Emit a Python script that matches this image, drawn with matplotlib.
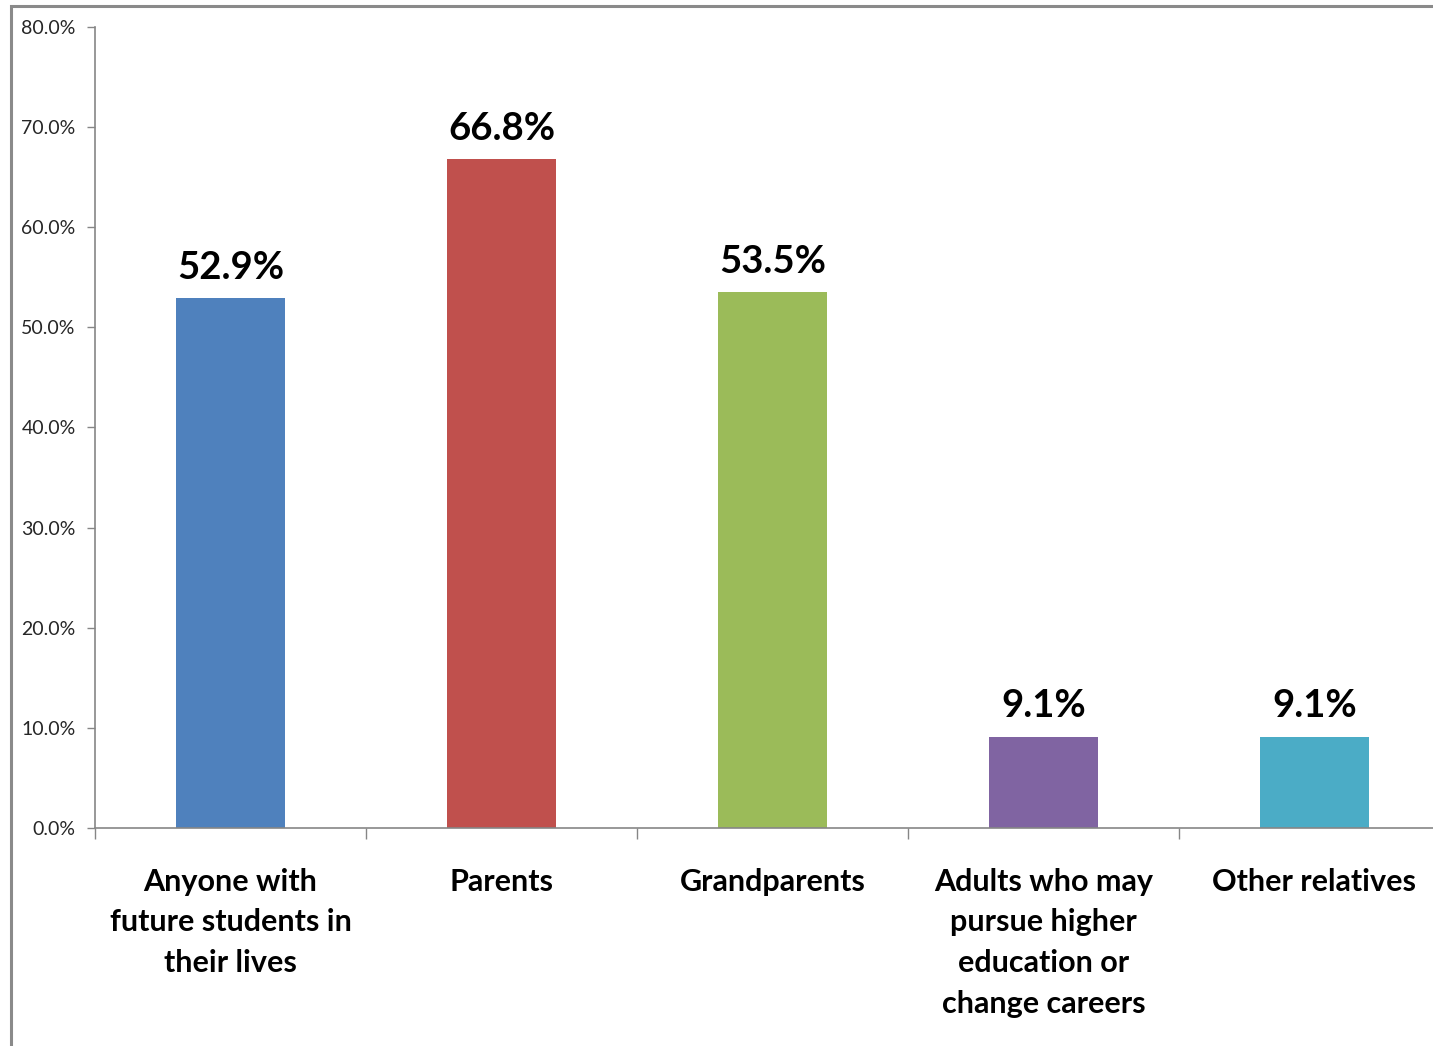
import matplotlib.pyplot as plt
from matplotlib.patches import Rectangle
from matplotlib.ticker import FuncFormatter

categories = [
    "Anyone with\nfuture students in\ntheir lives",
    "Parents",
    "Grandparents",
    "Adults who may\npursue higher\neducation or\nchange careers",
    "Other relatives",
]
values = [52.9, 66.8, 53.5, 9.1, 9.1]
colors = ["#4F81BD", "#C0504D", "#9BBB59", "#8064A2", "#4BACC6"]
yticks = [0, 10, 20, 30, 40, 50, 60, 70, 80]

plt.rcParams['font.family'] = ['Lato', 'DejaVu Sans']

W, H = 1433, 1046
fig = plt.figure(figsize=(W / 100, H / 100), dpi=100)

# chart area border (only top and left edges fall inside the image)
fig.patches.append(Rectangle((11 / W, -0.1), 1.2, (H - 6) / H + 0.1,
                             transform=fig.transFigure, fill=False,
                             edgecolor="#8a8a8a", linewidth=2.2))

ax = fig.add_axes([95 / W, 1 - 828 / H, (1450 - 95) / W, (828 - 27) / H])

x = list(range(len(values)))
bars = ax.bar(x, values, width=0.4, color=colors, zorder=2)

for xi, v in zip(x, values):
    ax.annotate(f"{v:.1f}%", (xi, v), xytext=(0, 14), textcoords="offset points",
                ha="center", va="baseline", fontsize=27.5, fontweight="bold",
                color="black")

ax.set_xlim(-0.5, 4.5)
ax.set_ylim(0, 80)
ax.set_yticks(yticks)
ax.yaxis.set_major_formatter(FuncFormatter(lambda v, p: f"{v:.1f}%"))
ax.tick_params(axis="y", direction="out", length=6, width=1, color="#868686",
               labelsize=14, labelcolor="#262626", pad=8)

# boundary ticks between categories, labels centred under each bar
ax.set_xticks([i - 0.5 for i in range(len(values))])
ax.set_xticklabels([])
ax.set_xticks(x, minor=True)
ax.set_xticklabels(categories, minor=True, fontsize=22, fontweight="bold",
                   linespacing=1.56, va="top")
ax.tick_params(axis="x", which="major", direction="out", length=8, width=1,
               color="#868686")
ax.tick_params(axis="x", which="minor", length=0, pad=28.5)

for side in ("top", "right"):
    ax.spines[side].set_visible(False)
for side in ("left", "bottom"):
    ax.spines[side].set_color("#868686")
    ax.spines[side].set_linewidth(1.2)

fig.savefig("out.png", dpi=100)
